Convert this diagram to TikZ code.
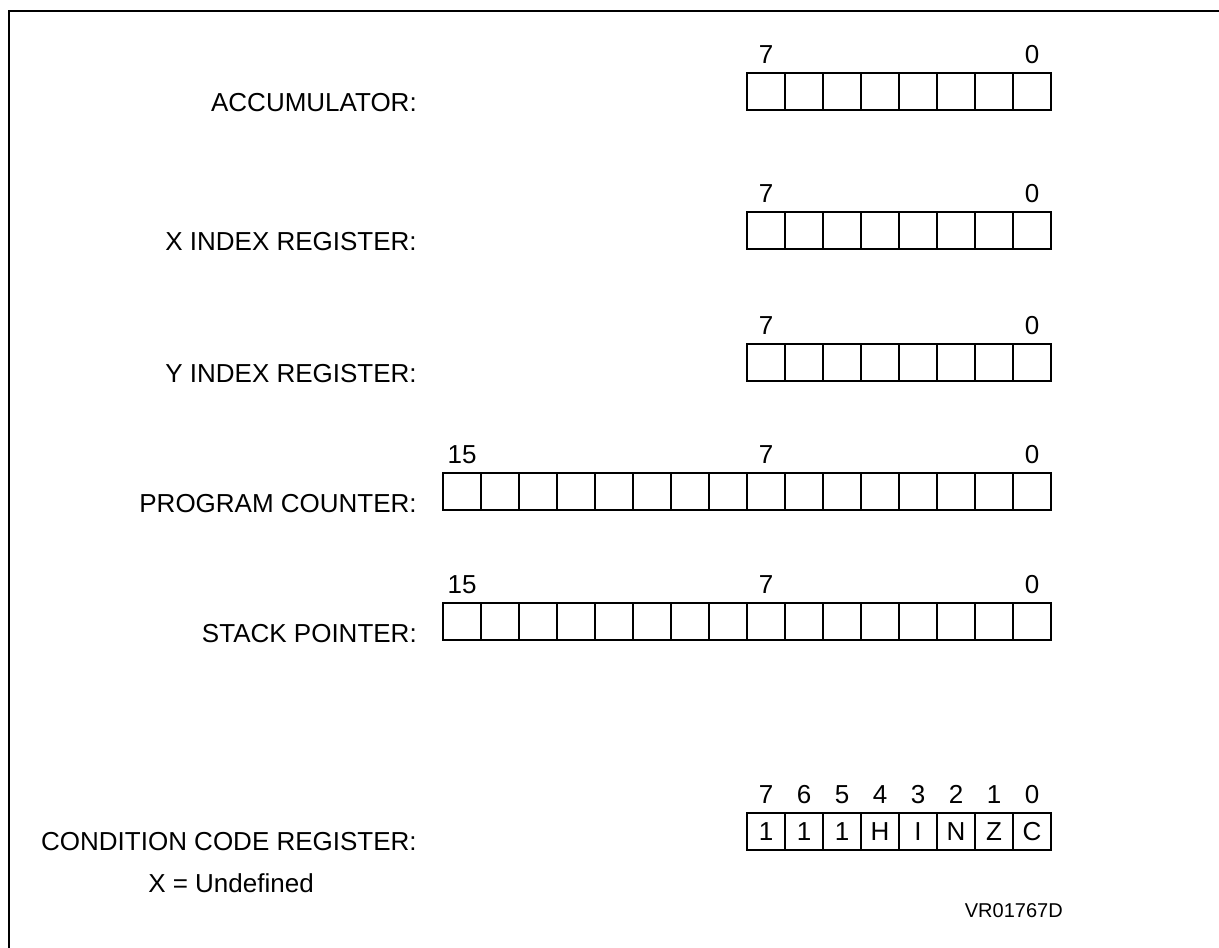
\documentclass[tikz,border=0pt]{standalone}
\usepackage{fontspec}
\setmainfont{Liberation Sans}
\usepackage{tikz}
\usetikzlibrary{positioning}

\tikzset{
  regcell/.style={draw, line width=1.1pt, minimum width=28.5pt, minimum height=27.75pt,
    inner sep=0pt, outer sep=0pt, anchor=north west, font=\fontsize{19.5}{22}\selectfont},
  bitnum/.style={inner sep=0pt, font=\fontsize{19.5}{22}\selectfont},
  reglabel/.style={inner sep=0pt, anchor=base east, font=\fontsize{19.5}{22}\selectfont}
}

\begin{document}
\begin{tikzpicture}[x=0.75pt,y=0.75pt,yscale=-1,xscale=1]
	\useasboundingbox (0,0) rectangle (1219,947);
	\draw[line width=2.2pt]  (9,948) -- (9,11) -- (1220,11) ;
	% 8 bit registers
	\foreach \reg/\top in {acc/73, xr/212, yr/344}{
		\foreach \b in {7,...,0}
			\node[regcell] (\reg\b) at ({747+38*(7-\b)},\top) {};
		\node[bitnum, above=7pt of \reg7] {7};
		\node[bitnum, above=7pt of \reg0] {0};
	}
	% 16 bit registers
	\foreach \reg/\top in {pc/473, sp/603}{
		\foreach \b in {15,...,0}
			\node[regcell] (\reg\b) at ({443+38*(15-\b)},\top) {};
		\node[bitnum, above=7pt of \reg15] {15};
		\node[bitnum, above=7pt of \reg7] {7};
		\node[bitnum, above=7pt of \reg0] {0};
	}
	% condition codes
	\foreach \b/\flag in {7/1, 6/1, 5/1, 4/H, 3/I, 2/N, 1/Z, 0/C}{
		\node[regcell] (ccr\b) at ({747+38*(7-\b)},813) {\flag};
		\node[bitnum, above=7pt of ccr\b] {\b};
	}
	\node[reglabel] (acclbl) at (417,111) {ACCUMULATOR:};
	\node[reglabel] (xlbl) at (417,250) {X INDEX REGISTER:};
	\node[reglabel] (ylbl) at (417,382) {Y INDEX REGISTER:};
	\node[reglabel] (pclbl) at (417,512) {PROGRAM COUNTER:};
	\node[reglabel] (splbl) at (417,642) {STACK POINTER:};
	\node[reglabel] (ccrlbl) at (417,850) {CONDITION CODE REGISTER:};
	\node[inner sep=0pt, anchor=base west, font=\fontsize{19.5}{22}\selectfont] (undef) at (148,892) {X = Undefined};
	\node[inner sep=0pt, anchor=base east, font=\fontsize{15}{18}\selectfont] (figid) at (1063,917) {VR01767D};
\end{tikzpicture}
\end{document}
